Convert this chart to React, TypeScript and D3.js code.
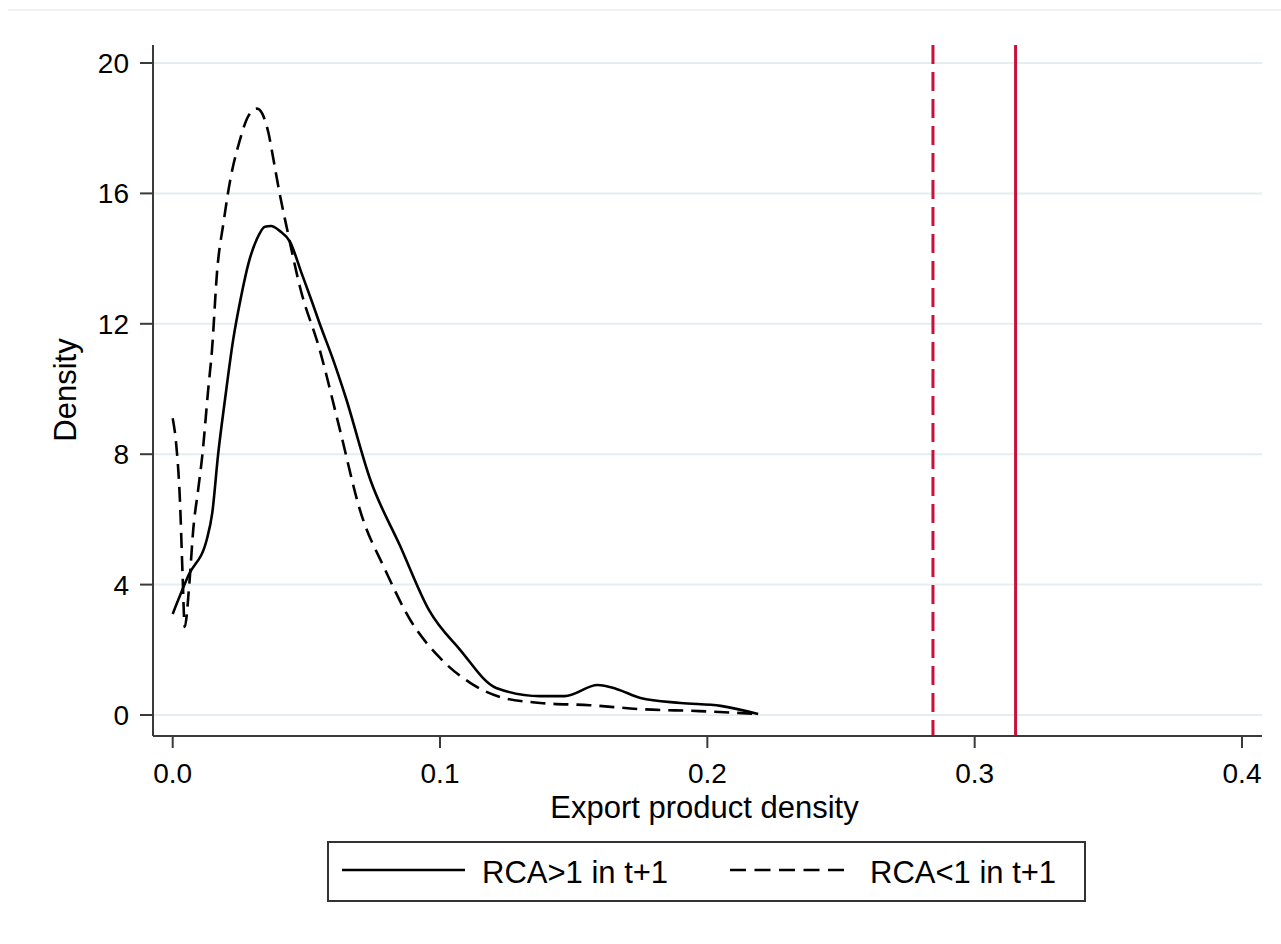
import React from "react";
import * as d3 from "d3";

const xTicks = [0, 0.1, 0.2, 0.3, 0.4];
const xTickLabels = ["0.0", "0.1", "0.2", "0.3", "0.4"];
const yTicks = [0, 4, 8, 12, 16, 20];

const rcaAboveX = [0, 0.006, 0.0128, 0.0148, 0.017, 0.0196, 0.0226, 0.0255, 0.0285, 0.0315, 0.0345, 0.0368, 0.040, 0.044, 0.048, 0.052, 0.055, 0.060, 0.0645, 0.074, 0.085, 0.096, 0.1075, 0.121, 0.1375, 0.1466, 0.159, 0.166, 0.175, 0.19, 0.205, 0.219];
const rcaAboveY = [3.1, 4.3, 5.4, 6.2, 8.0, 9.7, 11.5, 12.8, 13.9, 14.6, 14.98, 15.0, 14.85, 14.5, 13.6, 12.7, 12.0, 10.9, 9.8, 7.2, 5.2, 3.2, 2.0, 0.83, 0.58, 0.58, 0.92, 0.8, 0.52, 0.37, 0.28, 0.03];

const rcaBelowX = [0, 0.0012, 0.0027, 0.0037, 0.0045, 0.0062, 0.0077, 0.0095, 0.011, 0.0133, 0.0147, 0.0166, 0.019, 0.0215, 0.025, 0.0285, 0.0316, 0.0357, 0.038, 0.040, 0.0428, 0.0477, 0.055, 0.0627, 0.070, 0.0795, 0.089, 0.100, 0.111, 0.1225, 0.1375, 0.156, 0.175, 0.197, 0.219];
const rcaBelowY = [9.1, 8.4, 6.6, 4.3, 2.7, 4.0, 5.7, 6.9, 7.9, 10.0, 11.2, 13.6, 15.1, 16.4, 17.6, 18.4, 18.6, 17.9, 16.9, 16.0, 14.9, 13.1, 11.2, 8.7, 6.3, 4.45, 2.9, 1.75, 1.0, 0.55, 0.37, 0.3, 0.18, 0.12, 0.03];

const refLineDashedX = 0.2844;
const refLineSolidX = 0.3153;

const legendLabels = ["RCA>1 in t+1", "RCA<1 in t+1"];

const FONT = "'Liberation Sans', Arial, sans-serif";

export default function App() {
  const W = 1281, H = 944;
  const frame = { left: 153, right: 1262, top: 45, bottom: 736 };
  const x = d3.scaleLinear().domain([0, 0.4]).range([172.7, 1242]);
  const y = d3.scaleLinear().domain([0, 20]).range([715, 63]);

  const line = d3
    .line<[number, number]>()
    .x((d) => x(d[0]))
    .y((d) => y(d[1]))
    .curve(d3.curveMonotoneX);

  const above: [number, number][] = rcaAboveX.map((v, i) => [v, rcaAboveY[i]]);
  const below: [number, number][] = rcaBelowX.map((v, i) => [v, rcaBelowY[i]]);

  const axisColor = "#3a3a3a";
  const gridColor = "#e4edef";
  const red = "#c8103c";

  return (
    <svg
      width={W}
      height={H}
      style={{ position: "absolute", left: 0, top: 0, background: "#fff" }}
      fontFamily={FONT}
    >
      <rect x={0} y={0} width={W} height={H} fill="#fff" />
      <line x1={8} x2={W} y1={10} y2={10} stroke="#e8eef0" strokeWidth={1.5} />

      {yTicks.map((t) => (
        <line key={"g" + t} x1={frame.left} x2={frame.right} y1={y(t)} y2={y(t)} stroke={gridColor} strokeWidth={2} />
      ))}

      <line x1={x(refLineDashedX)} x2={x(refLineDashedX)} y1={frame.top} y2={frame.bottom} stroke={red} strokeWidth={3} strokeDasharray="19 8" />
      <line x1={x(refLineSolidX)} x2={x(refLineSolidX)} y1={frame.top} y2={frame.bottom} stroke={red} strokeWidth={3} />

      <path d={line(below) || ""} fill="none" stroke="#000" strokeWidth={2.6} strokeDasharray="15 8" />
      <path d={line(above) || ""} fill="none" stroke="#000" strokeWidth={2.6} />

      <line x1={frame.left} x2={frame.left} y1={frame.top} y2={frame.bottom} stroke={axisColor} strokeWidth={2} />
      <line x1={frame.left} x2={frame.right} y1={frame.bottom} y2={frame.bottom} stroke={axisColor} strokeWidth={2} />
      {yTicks.map((t) => (
        <g key={"y" + t}>
          <line x1={frame.left - 13} x2={frame.left} y1={y(t)} y2={y(t)} stroke={axisColor} strokeWidth={2} />
          <text x={129} y={y(t) + 10} textAnchor="end" fontSize={28} fill="#000">
            {t}
          </text>
        </g>
      ))}
      {xTicks.map((t, i) => (
        <g key={"x" + t}>
          <line x1={x(t)} x2={x(t)} y1={frame.bottom} y2={frame.bottom + 12} stroke={axisColor} strokeWidth={2} />
          <text x={x(t)} y={783} textAnchor="middle" fontSize={28} fill="#000">
            {xTickLabels[i]}
          </text>
        </g>
      ))}

      <text x={(frame.left + frame.right) / 2 - 3} y={818} textAnchor="middle" fontSize={31} fill="#000">
        Export product density
      </text>
      <text transform={`translate(76,390) rotate(-90)`} textAnchor="middle" fontSize={31} fill="#000">
        Density
      </text>

      <rect x={328} y={842} width={757} height={59} fill="#fff" stroke="#333" strokeWidth={2} />
      <line x1={342} x2={465} y1={870} y2={870} stroke="#000" strokeWidth={2.6} />
      <text x={482} y={883} fontSize={31} fill="#000">{legendLabels[0]}</text>
      <line x1={730} x2={852} y1={870} y2={870} stroke="#000" strokeWidth={2.6} strokeDasharray="16 8.5" />
      <text x={870} y={883} fontSize={31} fill="#000">{legendLabels[1]}</text>
    </svg>
  );
}
